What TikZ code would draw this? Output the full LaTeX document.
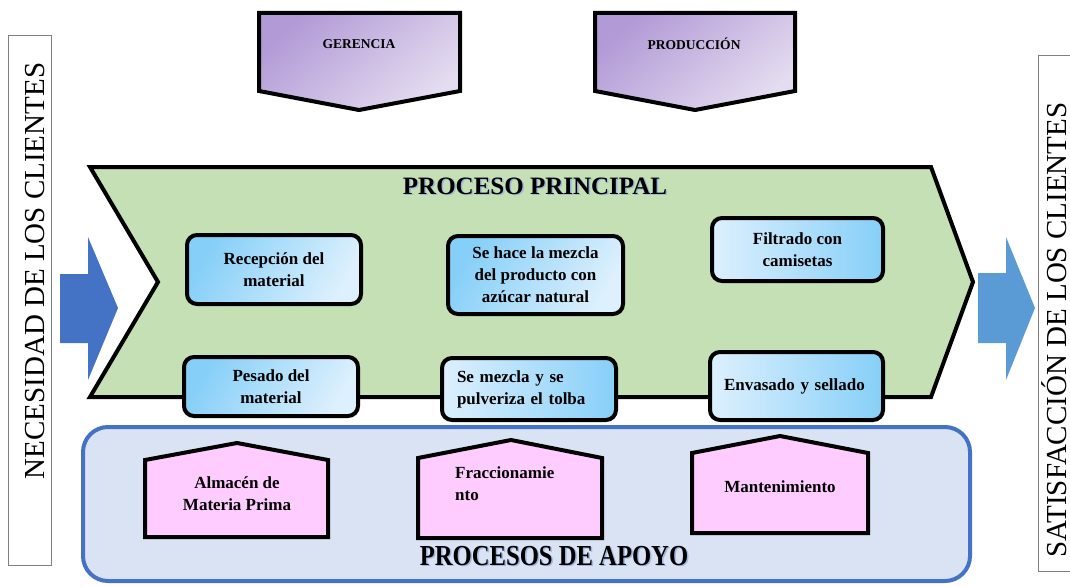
\documentclass[tikz,border=0pt]{standalone}
\usepackage{fontspec}
\setmainfont{Liberation Serif}
\usetikzlibrary{shadings}
\definecolor{greenfill}{HTML}{C5E0B4}
\definecolor{apoyofill}{HTML}{DAE3F3}
\definecolor{apoyoline}{HTML}{4472C4}
\definecolor{arrowL}{HTML}{4472C4}
\definecolor{arrowR}{HTML}{5B9BD5}
\definecolor{pinkfill}{HTML}{FFCCFF}
\definecolor{purpleA}{HTML}{B29AD6}
\definecolor{purpleB}{HTML}{E4DCF0}
\definecolor{blueA}{HTML}{86CFF8}
\definecolor{blueB}{HTML}{DDF0FD}
\definecolor{sidegray}{HTML}{7F7F7F}
\definecolor{glow}{HTML}{9DB7DE}
\tikzset{
  boxtxt/.style={font=\fontsize{17}{22}\selectfont\bfseries},
  procbox/.style={draw=black, line width=4pt, rounded corners=10pt, inner sep=0pt, boxtxt},
  darkleft/.style={top color=blueA, bottom color=blueB, shading angle=60},
  darkright/.style={left color=blueB, right color=blueA},
  topshape/.style={draw=black, line width=4pt, top color=purpleA, bottom color=purpleB, shading angle=40},
  pinkshape/.style={draw=black, line width=4pt, fill=pinkfill},
  sidebox/.style={draw=sidegray, line width=1pt},
  sidetxt/.style={font=\fontsize{29}{30}\selectfont, rotate=90, anchor=base, inner sep=0pt},
}
\begin{document}
\begin{tikzpicture}[x=1pt,y=-1pt]
\useasboundingbox (0,0) rectangle (1070,586);
% side boxes
\draw[sidebox] (8.5,35.5) rectangle (51,565);
\node[sidetxt] (nec) at (44,271) {NECESIDAD DE LOS CLIENTES};
\draw[sidebox] (1038.5,55.5) rectangle (1075,571);
\node[sidetxt] (sat) at (1066,330) {SATISFACCIÓN DE LOS CLIENTES};
% top shapes
\path[topshape] (259,13) -- (460,13) -- (460,91) -- (359,110) -- (259,91) -- cycle;
\node[font=\fontsize{13.5}{15}\selectfont\bfseries] (ger) at (359,44) {GERENCIA};
\path[topshape] (595,13) -- (795,13) -- (795,91) -- (695,110) -- (595,91) -- cycle;
\node[font=\fontsize{13.5}{15}\selectfont\bfseries] (prod) at (694,44) {PRODUCCIÓN};
% blue arrows
\fill[arrowL] (60,274) -- (88,274) -- (88,237) -- (118,308) -- (88,380) -- (88,343) -- (60,343) -- cycle;
\fill[arrowR] (978,273) -- (1006,273) -- (1006,237) -- (1035,308) -- (1006,380) -- (1006,343) -- (978,343) -- cycle;
% green chevron
\path[draw=black, line width=4pt, fill=greenfill] (90,167) -- (931,167) -- (973,282) -- (931,397) -- (90,397) -- (158,282) -- cycle;
\node[font=\fontsize{25}{26}\selectfont\bfseries, text=glow] at (536.5,187.5) {PROCESO PRINCIPAL};
\node[font=\fontsize{25}{26}\selectfont\bfseries] (pp) at (535,186) {PROCESO PRINCIPAL};
% apoyo box
\path[draw=apoyoline, line width=4pt, fill=apoyofill, rounded corners=25pt] (83,427) rectangle (970,581);
\node[font=\fontsize{29}{30}\selectfont\bfseries, text=glow, xscale=0.85] at (555.5,557.5) {PROCESOS DE APOYO};
\node[font=\fontsize{29}{30}\selectfont\bfseries, xscale=0.85] (pa) at (554,556) {PROCESOS DE APOYO};
% process boxes
\node[procbox, darkleft, minimum width=174pt, minimum height=69pt, align=center] (rec) at (274,269.5) {Recepción del\\material};
\node[procbox, darkleft, minimum width=175pt, minimum height=78pt, align=center] (mez) at (535.5,275) {Se hace la mezcla\\del producto con\\azúcar natural};
\node[procbox, darkright, minimum width=171pt, minimum height=63pt, align=center] (fil) at (797.5,249.5) {Filtrado con\\camisetas};
\node[procbox, darkleft, minimum width=174pt, minimum height=59pt, align=center] (pes) at (271,386.5) {Pesado del\\material};
\node[procbox, darkright, minimum width=174pt, minimum height=62pt, text width=144pt, align=left, inner xsep=15pt] (pul) at (529,389) {Se mezcla y se\\pulveriza el tolba};
\node[procbox, darkright, minimum width=173pt, minimum height=68pt, text width=145pt, align=left, inner xsep=14pt] (env) at (796.5,386) {Envasado y sellado};
% support shapes
\path[pinkshape] (145,537) -- (145,460) -- (237,443) -- (328,460) -- (328,537) -- cycle;
\node[boxtxt, align=center] (alm) at (237,494) {Almacén de\\Materia Prima};
\path[pinkshape] (418,538) -- (418,458) -- (511,440) -- (602,458) -- (602,538) -- cycle;
\node[boxtxt, align=left, anchor=north west, inner sep=0pt] (fra) at (455,466) {Fraccionamie\\nto};
\path[pinkshape] (692,533) -- (692,453) -- (780,436) -- (868,453) -- (868,533) -- cycle;
\node[boxtxt] (man) at (780,487) {Mantenimiento};
\end{tikzpicture}
\end{document}
